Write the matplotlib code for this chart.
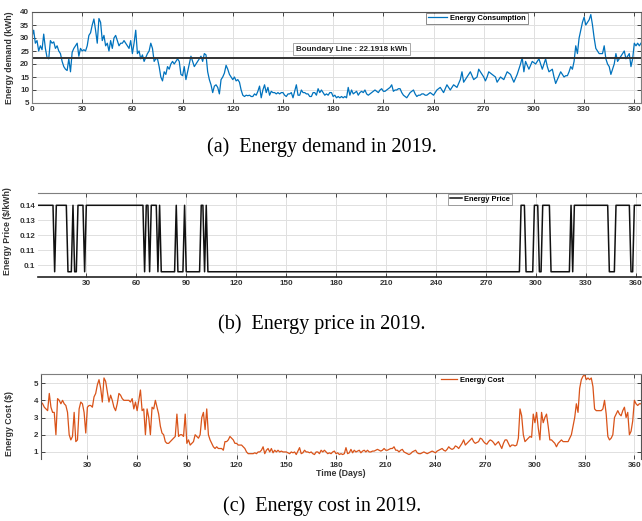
import numpy as np
import matplotlib
matplotlib.use("Agg")
import matplotlib.pyplot as plt

plt.rcParams['font.family'] = ['Liberation Sans', 'DejaVu Sans']

# ---------------- data ----------------
days = np.arange(0, 365)

demand = [
    30.5, 33, 28, 29, 25, 27, 25.5, 31.5, 26, 22.5,
    22, 29, 28, 28.5, 26, 27, 25, 24, 21, 19,
    18, 17.5, 22, 17, 24.5, 26, 27, 28, 23, 26,
    25, 25.5, 25, 27, 31, 32, 35, 37.3, 33, 28,
    37.5, 36, 29, 31, 27, 28, 25, 29, 26, 30,
    31, 29, 27, 28, 28, 29, 28, 27, 26, 29,
    24, 28, 33, 24, 25, 22, 23.5, 21, 22.5, 24,
    25, 28, 26, 21, 22, 22, 19, 15, 13.5, 17,
    16, 19, 18, 20, 21, 20, 21, 22, 21, 16,
    15.5, 19, 14, 17, 20, 23, 21, 19, 20, 21,
    22, 23, 21, 24, 23.5, 17, 14, 12, 9, 11.5,
    12, 11, 8.5, 14, 15, 16.5, 19.5, 18, 16, 15,
    14, 15, 13.5, 14, 13, 10, 8, 7.5, 8, 7.8,
    8, 7.5, 7.5, 8.5, 8, 9.5, 11.5, 7, 10, 12,
    9, 11, 8, 9.5, 9, 9, 8.5, 9, 8.5, 9,
    9, 8, 7.5, 8.5, 8.5, 9, 7, 9.5, 12, 8,
    8, 10, 9, 9, 8.5, 8.5, 7.5, 7.5, 9, 9,
    8, 10.5, 9, 10, 9, 8, 8.5, 8, 9, 9,
    7.5, 8, 7, 7.5, 7, 7.5, 7, 7.5, 7, 11,
    8, 10, 8.5, 9, 9.5, 8, 9, 9.5, 9, 10,
    8.5, 8, 8.5, 9, 9.5, 10, 9.5, 9, 10, 10.5,
    9.5, 9.5, 10, 10.5, 11, 12, 9.5, 10, 10, 10.5,
    10.5, 9, 8, 7.5, 7, 8, 9, 9.5, 10, 8.5,
    7.5, 8, 8, 8.5, 8.5, 8, 8, 8.5, 9, 8.5,
    8, 9, 10, 10.5, 11, 10, 9, 10.5, 12, 11,
    10, 11, 12, 11.5, 11, 12.5, 14, 17, 13, 14,
    15, 16, 17, 15.5, 14, 14.5, 15, 18, 17, 16,
    15, 13.5, 15, 17, 16.5, 16, 15.5, 15, 13, 14,
    15, 14.5, 14, 15.5, 17, 16.5, 16, 14.5, 13, 14.5,
    16, 18, 20, 22.5, 17, 21, 19.5, 18, 19.5, 21,
    20.5, 20, 21, 22, 20, 18, 20, 22, 19, 17,
    17.5, 18, 15, 12.5, 14, 15.5, 17, 16, 15, 15.5,
    15.5, 17, 19, 18, 21, 27, 24, 30, 33, 36,
    38, 35, 36, 37, 39, 35, 30, 26, 25, 24,
    24, 24, 27, 22, 20, 19, 16, 18, 20, 24,
    21, 22, 23, 24, 25, 22, 23, 24, 19, 22,
    28, 27, 28, 27, 28,
]

boundary = 22.1918

# price as run-lengths (level, number of days)
price_levels = [0.14, 0.0957, 0.14, 0.0957, 0.14, 0.0957, 0.14, 0.0957, 0.14, 0.0957,
                0.14, 0.0957, 0.14, 0.0957, 0.14, 0.0957, 0.14, 0.0957, 0.14, 0.0957,
                0.14, 0.0957, 0.14, 0.0957, 0.14, 0.0957, 0.14, 0.0957, 0.14, 0.0957,
                0.14, 0.0957, 0.14, 0.0957, 0.14, 0.0957, 0.14]
price_runs = [11, 1, 7, 3, 1, 2, 4, 1, 35, 1,
              2, 1, 4, 1, 1, 9, 1, 4, 1, 9,
              2, 1, 1, 188, 3, 5, 3, 2, 5, 12,
              1, 1, 21, 4, 9, 2, 6]

cost = [
    4.3, 4.6, 3.9, 3.8, 3.6, 3.5, 3.4, 4.4, 3.6, 3.3,
    3.3, 2.0, 4.1, 4.0, 3.8, 4.0, 3.8, 3.7, 3.3, 2.0,
    1.7, 1.9, 3.3, 1.6, 1.7, 3.5, 3.9, 3.8, 3.3, 2.1,
    3.6, 3.7, 3.7, 3.6, 4.2, 4.4, 4.9, 5.2, 4.7, 3.9,
    5.3, 5.1, 4.5, 3.9, 4.3, 4.0, 3.6, 3.4, 3.8, 4.4,
    4.3, 4.1, 4.0, 4.0, 4.0, 4.0, 3.9, 4.1, 3.5, 3.9,
    3.4, 4.0, 4.6, 3.4, 3.5, 2.0, 3.5, 3.0, 2.0, 3.6,
    3.5, 4.0, 3.6, 3.2, 2.5, 2.1, 2.0, 1.6, 1.5, 1.5,
    1.6, 1.7, 1.8, 1.9, 3.2, 1.9, 2.0, 2.0, 1.9, 3.2,
    1.5, 1.7, 1.4, 1.5, 1.6, 2.0, 1.9, 1.8, 2.0, 3.0,
    3.3, 2.3, 3.5, 2.0, 1.7, 1.5, 1.3, 1.2, 1.3, 1.2,
    1.2, 1.2, 1.1, 1.6, 1.6, 1.7, 1.9, 1.8, 1.7, 1.5,
    1.5, 1.4, 1.4, 1.4, 1.3, 1.2, 1.0, 0.9, 0.9, 0.9,
    0.9, 0.95, 0.9, 1.0, 1.0, 1.1, 1.3, 0.9, 1.1, 1.2,
    1.0, 1.2, 0.95, 1.1, 1.0, 1.1, 1.0, 1.05, 1.0, 1.0,
    1.0, 0.95, 0.9, 1.0, 0.95, 1.0, 0.85, 1.05, 1.25, 0.9,
    0.95, 1.1, 1.0, 1.0, 0.95, 1.0, 0.9, 0.85, 1.0, 1.0,
    0.9, 1.1, 1.0, 1.1, 1.0, 0.9, 0.95, 0.9, 1.0, 1.05,
    0.9, 0.95, 0.85, 0.9, 0.85, 0.9, 1.25, 0.9, 0.95, 1.15,
    0.95, 1.1, 1.0, 1.05, 1.1, 0.95, 1.05, 1.1, 1.0, 1.1,
    1.0, 1.0, 1.05, 1.05, 1.1, 1.15, 1.1, 1.05, 1.1, 1.2,
    1.1, 1.1, 1.15, 1.2, 1.2, 1.3, 1.1, 1.1, 1.0, 1.1,
    1.15, 1.0, 0.95, 0.9, 0.85, 0.9, 1.0, 1.05, 1.1, 0.95,
    0.9, 0.9, 0.95, 1.0, 0.95, 0.9, 0.95, 1.0, 1.05, 1.0,
    0.95, 1.05, 1.1, 1.15, 1.2, 1.1, 1.05, 1.15, 1.3, 1.2,
    1.15, 1.2, 1.35, 1.3, 1.2, 1.35, 1.5, 1.7, 1.4, 1.5,
    1.6, 1.7, 1.8, 1.6, 1.5, 1.55, 1.6, 1.8, 1.75, 1.6,
    1.5, 1.45, 1.6, 1.7, 1.65, 1.55, 1.4, 1.5, 1.6, 1.4,
    1.2, 1.5, 1.7, 1.7, 1.5, 1.3, 1.4, 1.4, 1.35, 1.4,
    1.8, 3.5, 3.1, 2.0, 1.6, 1.7, 1.8, 1.9, 1.85, 3.2,
    2.7, 3.3, 2.4, 1.7, 3.3, 2.7, 3.0, 3.2, 2.5, 1.7,
    1.7, 1.6, 1.5, 1.3, 1.5, 1.6, 1.7, 1.6, 1.6, 1.6,
    1.6, 1.8, 2.0, 2.5, 3.0, 3.8, 3.3, 4.7, 5.2, 5.4,
    5.5, 5.2, 5.3, 5.2, 5.3, 4.8, 3.5, 3.4, 3.4, 3.4,
    3.4, 3.5, 4.0, 3.2, 1.9, 1.7, 1.8, 2.0, 3.0, 3.2,
    3.4, 3.2, 3.1, 3.4, 3.6, 3.0, 3.3, 2.0, 2.2, 2.8,
    4.0, 3.8, 3.7, 3.8, 3.8,
]

xticks_a = [0, 30, 60, 90, 120, 150, 180, 210, 240, 270, 300, 330, 360]
xticks_bc = [30, 60, 90, 120, 150, 180, 210, 240, 270, 300, 330, 360]
yticks_a = [5, 10, 15, 20, 25, 30, 35, 40]
ytick_labels_a = ['5', '10', '15', '20', '25', '30', '35', '40']
yticks_b = [0.10, 0.11, 0.12, 0.13, 0.14]
ytick_labels_b = ['0.1', '0.11', '0.12', '0.13', '0.14']
yticks_c = [1, 2, 3, 4, 5]

price = np.repeat(price_levels, price_runs)

# ---------------- figure ----------------
W, H = 642, 521
fig = plt.figure(figsize=(W / 100, H / 100), dpi=100)
fig.patch.set_facecolor('white')


def px_axes(l, t, r, b):
    return fig.add_axes([l / W, 1 - b / H, (r - l) / W, (b - t) / H])


TICK_FS = 5.8
LAB_FS = 6.3


def style(ax):
    ax.grid(True, color='#e0e0e0', linewidth=0.7)
    ax.set_axisbelow(True)
    for s in ax.spines.values():
        s.set_color('#7f7f7f')
        s.set_linewidth(0.8)
    ax.tick_params(direction='in', length=3, width=0.7, color='#444444',
                   top=True, right=True, pad=2)
    for lab in ax.get_xticklabels() + ax.get_yticklabels():
        lab.set_fontsize(TICK_FS)
        lab.set_fontweight('bold')
        lab.set_color('#333333')


# Panel (a)
ax1 = px_axes(32, 12, 641, 103)
ax1.plot(days, demand, color='#0072BD', linewidth=0.9, label='Energy Consumption')
ax1.axhline(boundary, color='#333333', linewidth=1.4)
ax1.set_xlim(0, 364)
ax1.set_ylim(5, 40)
ax1.set_xticks(xticks_a)
ax1.set_yticks(yticks_a)
ax1.set_yticklabels(ytick_labels_a)
style(ax1)
ax1.spines['top'].set_color('#555555')
ax1.text(0.525, 0.593, 'Boundary Line : 22.1918 kWh', transform=ax1.transAxes,
         ha='center', va='center', fontsize=5.8, fontweight='bold', color='#222222',
         bbox=dict(boxstyle='square,pad=0.35', facecolor='white', edgecolor='#999999', linewidth=0.6))
leg1 = ax1.legend(loc='upper right', bbox_to_anchor=(0.814, 0.99), fontsize=5.4,
                  frameon=True, fancybox=False, edgecolor='#555555', handlelength=2.6,
                  borderpad=0.25, handletextpad=0.4, borderaxespad=0)
leg1.get_frame().set_linewidth(0.6)
for t in leg1.get_texts():
    t.set_fontweight('bold')
fig.text(10 / W, 1 - 58 / H, 'Energy demand (kWh)', rotation=90, ha='center', va='center',
         fontsize=LAB_FS, fontweight='bold', color='#333333')

# Panel (b)
ax2 = px_axes(38, 193, 641, 277)
ax2.plot(days, price, color='#111111', linewidth=1.1, label='Energy Price')
ax2.set_xlim(1, 363)
ax2.set_ylim(0.0922, 0.1482)
ax2.set_xticks(xticks_bc)
ax2.set_yticks(yticks_b)
ax2.set_yticklabels(ytick_labels_b)
style(ax2)
ax2.spines['bottom'].set_color('#222222')
ax2.spines['bottom'].set_linewidth(1.2)
ax2.spines['left'].set_visible(False)
ax2.spines['right'].set_visible(False)
ax2.tick_params(axis='y', length=0)
leg2 = ax2.legend(loc='upper right', bbox_to_anchor=(0.786, 0.99), fontsize=5.4,
                  frameon=True, fancybox=False, edgecolor='#777777', handlelength=1.6,
                  borderpad=0.25, handletextpad=0.3, borderaxespad=0)
leg2.get_frame().set_linewidth(0.6)
for t in leg2.get_texts():
    t.set_fontweight('bold')
fig.text(8 / W, 1 - 231 / H, 'Energy Price ($/kWh)', rotation=90, ha='center', va='center',
         fontsize=LAB_FS, fontweight='bold', color='#333333')

# Panel (c)
ax3 = px_axes(41, 374, 641, 459)
ax3.plot(days, cost, color='#D95319', linewidth=0.9, label='Energy Cost')
ax3.set_xlim(2, 364)
ax3.set_ylim(0.59, 5.53)
ax3.set_xticks(xticks_bc)
ax3.set_yticks(yticks_c)
style(ax3)
ax3.spines['left'].set_color('#555555')
ax3.spines['right'].set_color('#555555')
ax3.spines['bottom'].set_visible(False)
ax3.set_xlabel('Time (Days)', fontsize=LAB_FS, fontweight='bold', color='#333333', labelpad=0.5)
leg3 = ax3.legend(loc='upper right', bbox_to_anchor=(0.775, 0.99), fontsize=5.4,
                  frameon=True, fancybox=False, edgecolor='#ffffff', handlelength=2.2,
                  borderpad=0.25, handletextpad=0.4, borderaxespad=0)
leg3.get_frame().set_linewidth(0.6)
for t in leg3.get_texts():
    t.set_fontweight('bold')
fig.text(10 / W, 1 - 424 / H, 'Energy Cost ($)', rotation=90, ha='center', va='center',
         fontsize=LAB_FS, fontweight='bold', color='#333333')

# Captions
cap = dict(ha='center', va='center', fontsize=14.5, family=['Liberation Serif', 'DejaVu Serif'])
fig.text(322 / W, 1 - 147 / H, '(a)  Energy demand in 2019.', **cap)
fig.text(322 / W, 1 - 324 / H, '(b)  Energy price in 2019.', **cap)
fig.text(322 / W, 1 - 506 / H, '(c)  Energy cost in 2019.', **cap)

fig.savefig('out.png', dpi=100, facecolor='white')
